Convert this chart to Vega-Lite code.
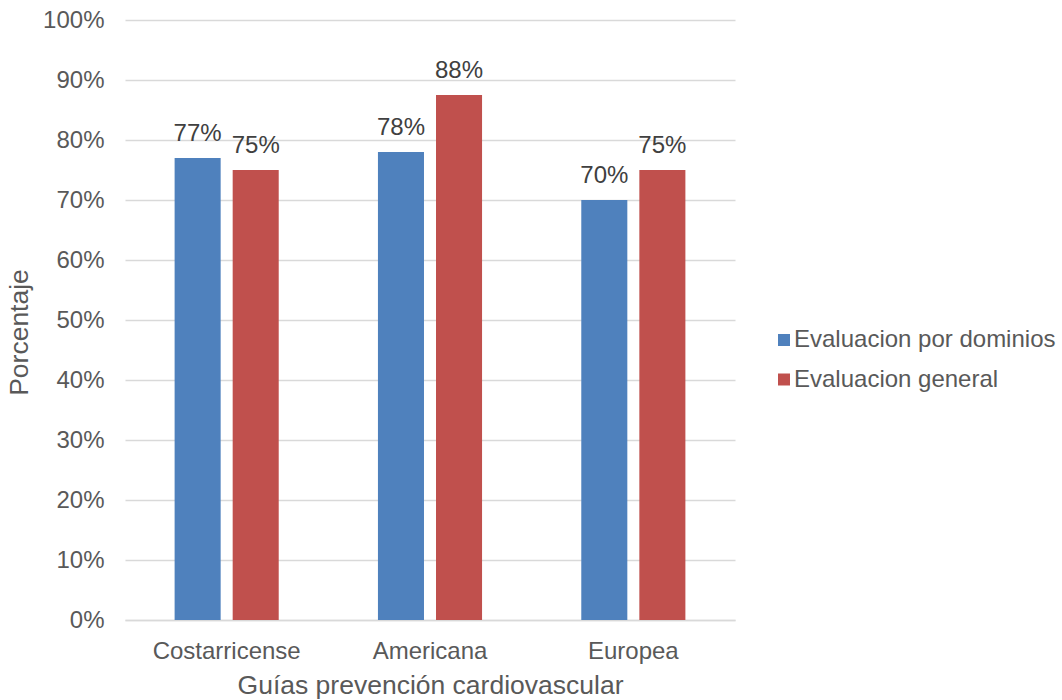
{
  "$schema": "https://vega.github.io/schema/vega-lite/v6.json",
  "width": 610,
  "height": 600,
  "autosize": {"type": "none"},
  "padding": {"left": 125, "top": 20, "right": 327, "bottom": 80},
  "background": "white",
  "config": {
    "view": {"stroke": null},
    "font": "Liberation Sans"
  },
  "data": {
    "values": [
      {"guia": "Costarricense", "serie": "Evaluacion por dominios", "valor": 0.77},
      {"guia": "Costarricense", "serie": "Evaluacion general", "valor": 0.75},
      {"guia": "Americana", "serie": "Evaluacion por dominios", "valor": 0.78},
      {"guia": "Americana", "serie": "Evaluacion general", "valor": 0.875},
      {"guia": "Europea", "serie": "Evaluacion por dominios", "valor": 0.70},
      {"guia": "Europea", "serie": "Evaluacion general", "valor": 0.75}
    ]
  },
  "encoding": {
    "x": {
      "field": "guia",
      "type": "nominal",
      "sort": ["Costarricense", "Americana", "Europea"],
      "scale": {"paddingInner": 0.488, "paddingOuter": 0.244},
      "axis": {
        "title": "Guías prevención cardiovascular",
        "labelAngle": 0,
        "labelFontSize": 24,
        "labelColor": "#595959",
        "labelPadding": 19,
        "ticks": false,
        "domainColor": "#D9D9D9",
        "domainWidth": 1.5,
        "titleFontSize": 26.5,
        "titleFontWeight": "normal",
        "titleColor": "#595959",
        "titleBaseline": "alphabetic",
        "titleY": 73
      }
    },
    "xOffset": {
      "field": "serie",
      "sort": ["Evaluacion por dominios", "Evaluacion general"],
      "scale": {"paddingInner": 0.207, "paddingOuter": 0}
    },
    "y": {
      "field": "valor",
      "type": "quantitative",
      "scale": {"domain": [0, 1]},
      "axis": {
        "title": "Porcentaje",
        "values": [0, 0.1, 0.2, 0.3, 0.4, 0.5, 0.6, 0.7, 0.8, 0.9, 1],
        "format": ".0%",
        "domain": false,
        "ticks": false,
        "gridColor": "#D9D9D9",
        "gridWidth": 1.5,
        "labelFontSize": 24,
        "labelColor": "#595959",
        "labelPadding": 21,
        "titleFontSize": 26.5,
        "titleFontWeight": "normal",
        "titleColor": "#595959",
        "titleX": -92,
        "titleY": 312
      }
    }
  },
  "layer": [
    {
      "mark": {"type": "bar"},
      "encoding": {
        "color": {
          "field": "serie",
          "type": "nominal",
          "sort": ["Evaluacion por dominios", "Evaluacion general"],
          "scale": {
            "domain": ["Evaluacion por dominios", "Evaluacion general"],
            "range": ["#4F81BD", "#C0504D"]
          },
          "legend": {
            "title": null,
            "orient": "none",
            "legendX": 647,
            "legendY": 308,
            "padding": 0,
            "symbolType": "square",
            "symbolSize": 144,
            "symbolStrokeWidth": 0,
            "labelFontSize": 24,
            "labelColor": "#595959",
            "labelOffset": -2,
            "labelLimit": 400,
            "rowPadding": 15.5
          }
        }
      }
    },
    {
      "mark": {"type": "text", "dy": -17, "baseline": "alphabetic", "fontSize": 24, "color": "#404040"},
      "encoding": {
        "text": {"field": "valor", "type": "quantitative", "format": ".0%"}
      }
    }
  ]
}
